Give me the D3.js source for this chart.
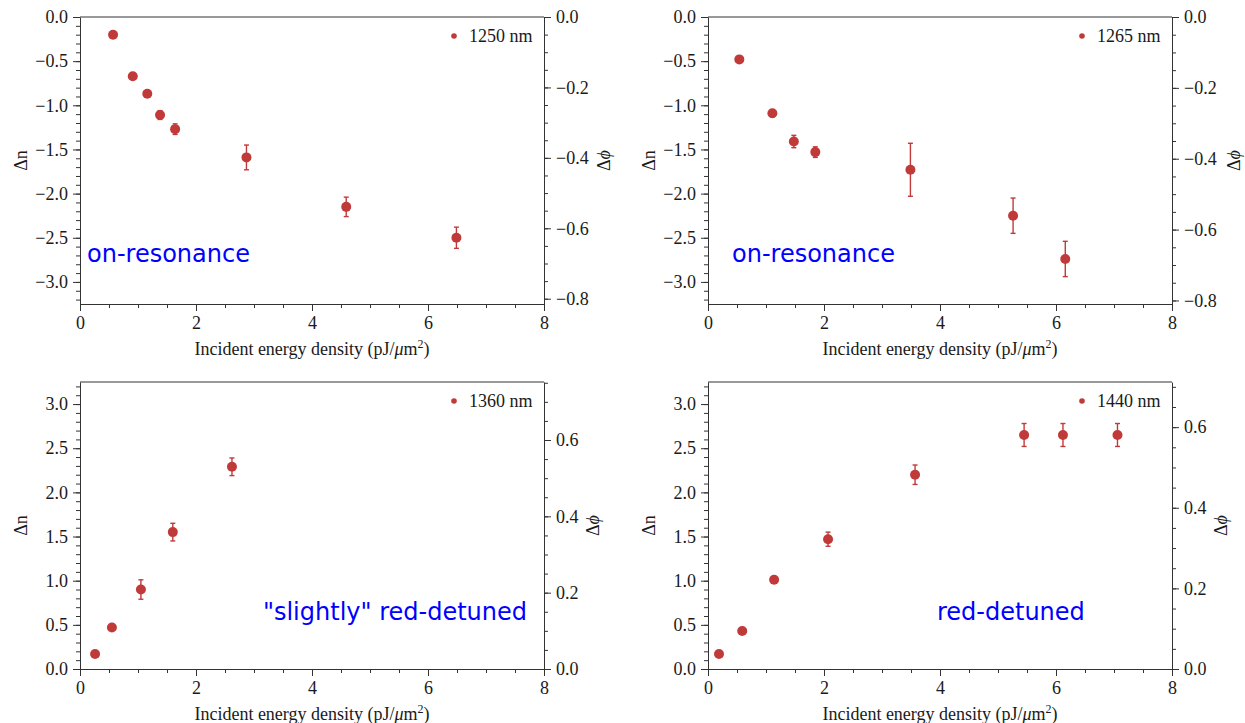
<!DOCTYPE html>
<html lang="en">
<head>
<meta charset="utf-8">
<title>Index change vs incident energy density</title>
<script src="https://d3js.org/d3.v7.min.js"></script>
<style>
  body { margin: 0; background: #fff; }
  .axis path, .axis line { stroke: #333; }
  .lbl { font-family: "Liberation Serif", "Times New Roman", serif; font-size: 18px; fill: #1a1a1a; }
  .note { font-family: "DejaVu Sans", sans-serif; font-size: 24px; fill: #0000ff; }
</style>
</head>
<body>
<script>
// data
var wavelengths = ["1250 nm", "1265 nm", "1360 nm", "1440 nm"];
var notes = ["on-resonance", "on-resonance", "\"slightly\" red-detuned", "red-detuned"];

var energy1250 = [0.57, 0.91, 1.16, 1.38, 1.64, 2.87, 4.59, 6.49];
var dn1250     = [-0.20, -0.67, -0.87, -1.11, -1.27, -1.59, -2.15, -2.50];
var err1250    = [0.02, 0.02, 0.03, 0.05, 0.06, 0.14, 0.11, 0.12];

var energy1265 = [0.54, 1.11, 1.48, 1.85, 3.49, 5.26, 6.16];
var dn1265     = [-0.48, -1.09, -1.41, -1.53, -1.73, -2.25, -2.74];
var err1265    = [0.03, 0.04, 0.07, 0.06, 0.30, 0.20, 0.20];

var energy1360 = [0.26, 0.55, 1.05, 1.60, 2.62];
var dn1360     = [0.17, 0.47, 0.90, 1.55, 2.29];
var err1360    = [0.02, 0.03, 0.11, 0.10, 0.10];

var energy1440 = [0.19, 0.59, 1.14, 2.07, 3.57, 5.45, 6.12, 7.06];
var dn1440     = [0.17, 0.43, 1.01, 1.47, 2.20, 2.65, 2.65, 2.65];
var err1440    = [0.02, 0.02, 0.03, 0.08, 0.11, 0.13, 0.13, 0.13];

var xTicks = [0, 2, 4, 6, 8];

var series = [
  {x: energy1250, y: dn1250, e: err1250},
  {x: energy1265, y: dn1265, e: err1265},
  {x: energy1360, y: dn1360, e: err1360},
  {x: energy1440, y: dn1440, e: err1440}
];

// layout of each panel
var panels = [
  {left: 80,  top: 17,  yDom: [-3.25, 0], pDom: [-0.815, 0], noteX: 7,   noteY: 245, anchor: "start", pLabelX: 66},
  {left: 708, top: 17,  yDom: [-3.25, 0], pDom: [-0.81, 0],  noteX: 24,  noteY: 245, anchor: "start", pLabelX: 68},
  {left: 80,  top: 382, yDom: [0, 3.25],  pDom: [0, 0.752],  noteX: 447, noteY: 238, anchor: "end",   pLabelX: 55},
  {left: 708, top: 382, yDom: [0, 3.25],  pDom: [0, 0.712],  noteX: 229, noteY: 238, anchor: "start", pLabelX: 55}
];

var W = 1245, H = 723;
var pw = 464, ph = 287;
var red = "#c13a3a";
var serif = "'Liberation Serif', 'Times New Roman', serif";

var svg = d3.select("body").append("svg")
  .attr("width", W)
  .attr("height", H);

function steps(a, b, s) {
  var out = [];
  var n = Math.round((b - a) / s);
  for (var i = 0; i <= n; i++) out.push(+(a + i * s).toFixed(3));
  return out;
}

function styleAxis(sel) {
  sel.attr("font-family", serif).attr("font-size", 18);
  sel.selectAll("text").attr("fill", "#1a1a1a");
}

panels.forEach(function(p, k) {
  var d = series[k];
  var g = svg.append("g").attr("transform", "translate(" + p.left + "," + p.top + ")");

  var x = d3.scaleLinear().domain([0, 8]).range([0, pw]);
  var y = d3.scaleLinear().domain(p.yDom).range([ph, 0]);
  var yp = d3.scaleLinear().domain(p.pDom).range([ph, 0]);

  var yMin = Math.ceil(p.yDom[0] * 10) / 10, yMax = Math.floor(p.yDom[1] * 10) / 10;
  var yMajor = steps(Math.ceil(p.yDom[0] * 2) / 2, Math.floor(p.yDom[1] * 2) / 2, 0.5);
  var pMajor = steps(Math.ceil(p.pDom[0] * 5) / 5, Math.floor(p.pDom[1] * 5) / 5, 0.2);
  var pMin = Math.ceil(p.pDom[0] * 20) / 20, pMax = Math.floor(p.pDom[1] * 20) / 20;

  // minor ticks
  g.append("g").attr("class", "axis")
    .attr("transform", "translate(0," + ph + ")")
    .call(d3.axisBottom(x).tickValues(steps(0, 8, 0.5)).tickSize(4).tickFormat(""))
    .select(".domain").remove();
  g.append("g").attr("class", "axis")
    .call(d3.axisLeft(y).tickValues(steps(yMin, yMax, 0.1)).tickSize(4).tickFormat(""))
    .select(".domain").remove();
  g.append("g").attr("class", "axis")
    .attr("transform", "translate(" + pw + ",0)")
    .call(d3.axisRight(yp).tickValues(steps(pMin, pMax, 0.05)).tickSize(4).tickFormat(""))
    .select(".domain").remove();

  // major ticks
  g.append("g").attr("class", "axis")
    .attr("transform", "translate(0," + ph + ")")
    .call(d3.axisBottom(x).tickValues(xTicks).tickSize(7).tickSizeOuter(0).tickPadding(5).tickFormat(d3.format("d")))
    .call(styleAxis);
  g.append("g").attr("class", "axis")
    .call(d3.axisLeft(y).tickValues(yMajor).tickSize(7).tickSizeOuter(0).tickPadding(5).tickFormat(d3.format(".1f")))
    .call(styleAxis);
  g.append("g").attr("class", "axis")
    .attr("transform", "translate(" + pw + ",0)")
    .call(d3.axisRight(yp).tickValues(pMajor).tickSize(7).tickSizeOuter(0).tickPadding(5).tickFormat(d3.format(".1f")))
    .call(styleAxis);

  // top frame line
  g.append("line").attr("x1", 0).attr("x2", pw).attr("y1", 0).attr("y2", 0)
    .attr("stroke", "#333");

  // axis titles
  g.append("text").attr("class", "lbl")
    .attr("transform", "translate(-53," + ph / 2 + ") rotate(-90)")
    .attr("text-anchor", "middle")
    .text("Δn");
  var pt = g.append("text").attr("class", "lbl")
    .attr("transform", "translate(" + (pw + p.pLabelX) + "," + ph / 2 + ") rotate(-90)")
    .attr("text-anchor", "middle");
  pt.append("tspan").text("Δ");
  pt.append("tspan").attr("font-style", "italic").text("ϕ");

  var xl = g.append("text").attr("class", "lbl")
    .attr("x", pw / 2).attr("y", ph + 51)
    .attr("text-anchor", "middle")
    .text("Incident energy density (pJ/");
  xl.append("tspan").attr("font-style", "italic").text("μ");
  xl.append("tspan").text("m");
  xl.append("tspan").attr("dy", -7).attr("font-size", "12px").text("2");
  xl.append("tspan").attr("dy", 7).text(")");

  // error bars + markers
  var pts = g.append("g").selectAll("g").data(d3.range(d.x.length)).enter().append("g");
  pts.append("line")
    .attr("x1", function(i) { return x(d.x[i]); })
    .attr("x2", function(i) { return x(d.x[i]); })
    .attr("y1", function(i) { return y(d.y[i] - d.e[i]); })
    .attr("y2", function(i) { return y(d.y[i] + d.e[i]); })
    .attr("stroke", red).attr("stroke-width", 1.4);
  [-1, 1].forEach(function(s) {
    pts.append("line")
      .attr("x1", function(i) { return x(d.x[i]) - 2.5; })
      .attr("x2", function(i) { return x(d.x[i]) + 2.5; })
      .attr("y1", function(i) { return y(d.y[i] + s * d.e[i]); })
      .attr("y2", function(i) { return y(d.y[i] + s * d.e[i]); })
      .attr("stroke", red).attr("stroke-width", 1.4);
  });
  pts.append("circle")
    .attr("cx", function(i) { return x(d.x[i]); })
    .attr("cy", function(i) { return y(d.y[i]); })
    .attr("r", 5)
    .attr("fill", red);

  // legend
  g.append("circle").attr("cx", 374).attr("cy", 19).attr("r", 2.8).attr("fill", red);
  g.append("text").attr("class", "lbl")
    .attr("x", 389).attr("y", 19).attr("dy", "0.35em")
    .text(wavelengths[k]);

  // annotation
  g.append("text").attr("class", "note")
    .attr("x", p.noteX).attr("y", p.noteY)
    .attr("text-anchor", p.anchor)
    .text(notes[k]);
});
</script>
</body>
</html>
